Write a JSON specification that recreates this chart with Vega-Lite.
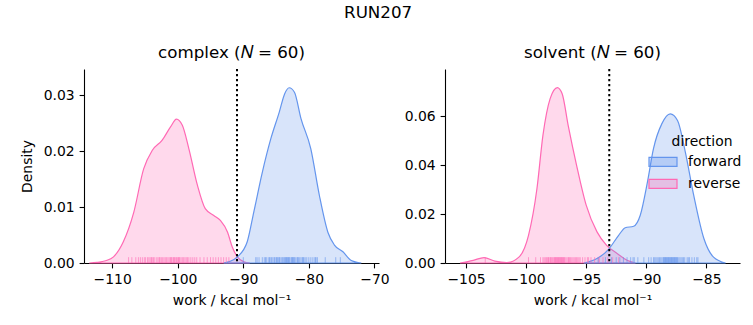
{
  "$schema": "https://vega.github.io/schema/vega-lite/v6.json",
  "padding": {"left": 20, "top": 4, "right": 5, "bottom": 5},
  "bounds": "flush",
  "spacing": 66,
  "title": {"text": "RUN207", "fontSize": 16.7, "fontWeight": "normal", "anchor": "middle", "dx": -3, "offset": 24},
  "datasets": {
    "curves": [
      {"panel": "complex", "direction": "reverse", "x": -113.5, "y": 0},
      {"panel": "complex", "direction": "reverse", "x": -112.3, "y": 0.0001},
      {"panel": "complex", "direction": "reverse", "x": -111.0, "y": 0.0004},
      {"panel": "complex", "direction": "reverse", "x": -109.8, "y": 0.0011},
      {"panel": "complex", "direction": "reverse", "x": -108.3, "y": 0.0038},
      {"panel": "complex", "direction": "reverse", "x": -106.7, "y": 0.0091},
      {"panel": "complex", "direction": "reverse", "x": -105.2, "y": 0.0168},
      {"panel": "complex", "direction": "reverse", "x": -103.9, "y": 0.0201},
      {"panel": "complex", "direction": "reverse", "x": -102.4, "y": 0.0219},
      {"panel": "complex", "direction": "reverse", "x": -101.1, "y": 0.0243},
      {"panel": "complex", "direction": "reverse", "x": -100.2, "y": 0.0257},
      {"panel": "complex", "direction": "reverse", "x": -99.3, "y": 0.0246},
      {"panel": "complex", "direction": "reverse", "x": -98.3, "y": 0.0204},
      {"panel": "complex", "direction": "reverse", "x": -97.0, "y": 0.0139},
      {"panel": "complex", "direction": "reverse", "x": -95.8, "y": 0.0097},
      {"panel": "complex", "direction": "reverse", "x": -94.5, "y": 0.0085},
      {"panel": "complex", "direction": "reverse", "x": -93.5, "y": 0.0076},
      {"panel": "complex", "direction": "reverse", "x": -92.4, "y": 0.0055},
      {"panel": "complex", "direction": "reverse", "x": -91.7, "y": 0.0029},
      {"panel": "complex", "direction": "reverse", "x": -90.9, "y": 0.0011},
      {"panel": "complex", "direction": "reverse", "x": -89.9, "y": 0.0002},
      {"panel": "complex", "direction": "reverse", "x": -89.0, "y": 0},
      {"panel": "complex", "direction": "forward", "x": -93.0, "y": 0},
      {"panel": "complex", "direction": "forward", "x": -92.0, "y": 0.0003},
      {"panel": "complex", "direction": "forward", "x": -90.9, "y": 0.0011},
      {"panel": "complex", "direction": "forward", "x": -89.4, "y": 0.0038},
      {"panel": "complex", "direction": "forward", "x": -88.4, "y": 0.0091},
      {"panel": "complex", "direction": "forward", "x": -87.1, "y": 0.0162},
      {"panel": "complex", "direction": "forward", "x": -85.8, "y": 0.0222},
      {"panel": "complex", "direction": "forward", "x": -84.5, "y": 0.027},
      {"panel": "complex", "direction": "forward", "x": -83.7, "y": 0.0302},
      {"panel": "complex", "direction": "forward", "x": -83.0, "y": 0.0313},
      {"panel": "complex", "direction": "forward", "x": -82.2, "y": 0.0305},
      {"panel": "complex", "direction": "forward", "x": -81.2, "y": 0.0258},
      {"panel": "complex", "direction": "forward", "x": -79.7, "y": 0.0204},
      {"panel": "complex", "direction": "forward", "x": -78.4, "y": 0.0121},
      {"panel": "complex", "direction": "forward", "x": -77.1, "y": 0.0055},
      {"panel": "complex", "direction": "forward", "x": -76.1, "y": 0.0032},
      {"panel": "complex", "direction": "forward", "x": -74.8, "y": 0.002},
      {"panel": "complex", "direction": "forward", "x": -73.6, "y": 0.0005},
      {"panel": "complex", "direction": "forward", "x": -72.0, "y": 0},
      {"panel": "solvent", "direction": "reverse", "x": -105.5, "y": 0},
      {"panel": "solvent", "direction": "reverse", "x": -104.4, "y": 0.0011},
      {"panel": "solvent", "direction": "reverse", "x": -103.5, "y": 0.0022},
      {"panel": "solvent", "direction": "reverse", "x": -102.6, "y": 0.0008},
      {"panel": "solvent", "direction": "reverse", "x": -101.6, "y": 0.0002},
      {"panel": "solvent", "direction": "reverse", "x": -100.6, "y": 0.0024},
      {"panel": "solvent", "direction": "reverse", "x": -99.8, "y": 0.0113},
      {"panel": "solvent", "direction": "reverse", "x": -99.1, "y": 0.0303},
      {"panel": "solvent", "direction": "reverse", "x": -98.6, "y": 0.0521},
      {"panel": "solvent", "direction": "reverse", "x": -98.0, "y": 0.0671},
      {"panel": "solvent", "direction": "reverse", "x": -97.4, "y": 0.0716},
      {"panel": "solvent", "direction": "reverse", "x": -97.0, "y": 0.0691},
      {"panel": "solvent", "direction": "reverse", "x": -96.5, "y": 0.0562},
      {"panel": "solvent", "direction": "reverse", "x": -95.8, "y": 0.0399},
      {"panel": "solvent", "direction": "reverse", "x": -95.0, "y": 0.0236},
      {"panel": "solvent", "direction": "reverse", "x": -94.1, "y": 0.0127},
      {"panel": "solvent", "direction": "reverse", "x": -93.3, "y": 0.0072},
      {"panel": "solvent", "direction": "reverse", "x": -92.4, "y": 0.0038},
      {"panel": "solvent", "direction": "reverse", "x": -91.6, "y": 0.0011},
      {"panel": "solvent", "direction": "reverse", "x": -90.9, "y": 0},
      {"panel": "solvent", "direction": "forward", "x": -95.2, "y": 0},
      {"panel": "solvent", "direction": "forward", "x": -94.1, "y": 0.0018},
      {"panel": "solvent", "direction": "forward", "x": -93.1, "y": 0.0058},
      {"panel": "solvent", "direction": "forward", "x": -92.3, "y": 0.0113},
      {"panel": "solvent", "direction": "forward", "x": -91.75, "y": 0.0144},
      {"panel": "solvent", "direction": "forward", "x": -91.05, "y": 0.015},
      {"panel": "solvent", "direction": "forward", "x": -90.5, "y": 0.0195},
      {"panel": "solvent", "direction": "forward", "x": -89.9, "y": 0.0331},
      {"panel": "solvent", "direction": "forward", "x": -89.4, "y": 0.0467},
      {"panel": "solvent", "direction": "forward", "x": -88.7, "y": 0.0569},
      {"panel": "solvent", "direction": "forward", "x": -88.0, "y": 0.0609},
      {"panel": "solvent", "direction": "forward", "x": -87.4, "y": 0.0582},
      {"panel": "solvent", "direction": "forward", "x": -86.75, "y": 0.0453},
      {"panel": "solvent", "direction": "forward", "x": -86.05, "y": 0.0276},
      {"panel": "solvent", "direction": "forward", "x": -85.2, "y": 0.0099},
      {"panel": "solvent", "direction": "forward", "x": -84.4, "y": 0.0024},
      {"panel": "solvent", "direction": "forward", "x": -83.4, "y": 0}
    ],
    "rug_complex": [
      {"direction": "reverse", "x": -107.5}, {"direction": "reverse", "x": -107.0}, {"direction": "reverse", "x": -106.4}, {"direction": "reverse", "x": -106.0}, {"direction": "reverse", "x": -105.7}, {"direction": "reverse", "x": -105.4}, {"direction": "reverse", "x": -105.1}, {"direction": "reverse", "x": -104.9}, {"direction": "reverse", "x": -104.6}, {"direction": "reverse", "x": -104.4}, {"direction": "reverse", "x": -104.2}, {"direction": "reverse", "x": -103.9}, {"direction": "reverse", "x": -103.7}, {"direction": "reverse", "x": -103.5}, {"direction": "reverse", "x": -103.2}, {"direction": "reverse", "x": -103.0}, {"direction": "reverse", "x": -102.8}, {"direction": "reverse", "x": -102.5}, {"direction": "reverse", "x": -102.3}, {"direction": "reverse", "x": -102.1}, {"direction": "reverse", "x": -101.9}, {"direction": "reverse", "x": -101.7}, {"direction": "reverse", "x": -101.5}, {"direction": "reverse", "x": -101.3}, {"direction": "reverse", "x": -101.1}, {"direction": "reverse", "x": -100.9}, {"direction": "reverse", "x": -100.7}, {"direction": "reverse", "x": -100.5}, {"direction": "reverse", "x": -100.3}, {"direction": "reverse", "x": -100.2}, {"direction": "reverse", "x": -100.0}, {"direction": "reverse", "x": -99.8}, {"direction": "reverse", "x": -99.7}, {"direction": "reverse", "x": -99.5}, {"direction": "reverse", "x": -99.3}, {"direction": "reverse", "x": -99.1}, {"direction": "reverse", "x": -98.9}, {"direction": "reverse", "x": -98.7}, {"direction": "reverse", "x": -98.5}, {"direction": "reverse", "x": -98.3}, {"direction": "reverse", "x": -98.0}, {"direction": "reverse", "x": -97.7}, {"direction": "reverse", "x": -97.4}, {"direction": "reverse", "x": -97.1}, {"direction": "reverse", "x": -96.6}, {"direction": "reverse", "x": -96.0}, {"direction": "reverse", "x": -95.5}, {"direction": "reverse", "x": -95.0}, {"direction": "reverse", "x": -94.6}, {"direction": "reverse", "x": -94.2}, {"direction": "reverse", "x": -93.8}, {"direction": "reverse", "x": -93.4}, {"direction": "reverse", "x": -93.0}, {"direction": "reverse", "x": -92.6}, {"direction": "reverse", "x": -92.2}, {"direction": "reverse", "x": -101.0}, {"direction": "reverse", "x": -100.6}, {"direction": "reverse", "x": -99.9}, {"direction": "reverse", "x": -102.7}, {"direction": "reverse", "x": -104.0},
      {"direction": "forward", "x": -90.0}, {"direction": "forward", "x": -88.1}, {"direction": "forward", "x": -87.6}, {"direction": "forward", "x": -87.1}, {"direction": "forward", "x": -86.8}, {"direction": "forward", "x": -86.5}, {"direction": "forward", "x": -86.2}, {"direction": "forward", "x": -86.0}, {"direction": "forward", "x": -85.7}, {"direction": "forward", "x": -85.5}, {"direction": "forward", "x": -85.2}, {"direction": "forward", "x": -85.0}, {"direction": "forward", "x": -84.8}, {"direction": "forward", "x": -84.6}, {"direction": "forward", "x": -84.4}, {"direction": "forward", "x": -84.2}, {"direction": "forward", "x": -84.0}, {"direction": "forward", "x": -83.9}, {"direction": "forward", "x": -83.7}, {"direction": "forward", "x": -83.5}, {"direction": "forward", "x": -83.4}, {"direction": "forward", "x": -83.2}, {"direction": "forward", "x": -83.0}, {"direction": "forward", "x": -82.9}, {"direction": "forward", "x": -82.7}, {"direction": "forward", "x": -82.5}, {"direction": "forward", "x": -82.4}, {"direction": "forward", "x": -82.2}, {"direction": "forward", "x": -82.0}, {"direction": "forward", "x": -81.8}, {"direction": "forward", "x": -81.6}, {"direction": "forward", "x": -81.4}, {"direction": "forward", "x": -81.2}, {"direction": "forward", "x": -81.0}, {"direction": "forward", "x": -80.8}, {"direction": "forward", "x": -80.6}, {"direction": "forward", "x": -80.4}, {"direction": "forward", "x": -80.1}, {"direction": "forward", "x": -79.8}, {"direction": "forward", "x": -79.5}, {"direction": "forward", "x": -79.2}, {"direction": "forward", "x": -78.9}, {"direction": "forward", "x": -78.7}, {"direction": "forward", "x": -75.9}, {"direction": "forward", "x": -75.2}, {"direction": "forward", "x": -84.5}, {"direction": "forward", "x": -83.6}, {"direction": "forward", "x": -83.1}, {"direction": "forward", "x": -82.6}, {"direction": "forward", "x": -85.9}, {"direction": "forward", "x": -86.6}, {"direction": "forward", "x": -81.7}, {"direction": "forward", "x": -80.9}, {"direction": "forward", "x": -84.9}, {"direction": "forward", "x": -83.3}, {"direction": "forward", "x": -82.3}, {"direction": "forward", "x": -87.9}, {"direction": "forward", "x": -79.0}, {"direction": "forward", "x": -77.5}, {"direction": "forward", "x": -85.3}
    ],
    "rug_solvent": [
      {"direction": "reverse", "x": -103.4}, {"direction": "reverse", "x": -99.8}, {"direction": "reverse", "x": -99.2}, {"direction": "reverse", "x": -98.8}, {"direction": "reverse", "x": -98.6}, {"direction": "reverse", "x": -98.4}, {"direction": "reverse", "x": -98.3}, {"direction": "reverse", "x": -98.2}, {"direction": "reverse", "x": -98.1}, {"direction": "reverse", "x": -98.0}, {"direction": "reverse", "x": -97.9}, {"direction": "reverse", "x": -97.8}, {"direction": "reverse", "x": -97.7}, {"direction": "reverse", "x": -97.6}, {"direction": "reverse", "x": -97.5}, {"direction": "reverse", "x": -97.4}, {"direction": "reverse", "x": -97.35}, {"direction": "reverse", "x": -97.3}, {"direction": "reverse", "x": -97.2}, {"direction": "reverse", "x": -97.1}, {"direction": "reverse", "x": -97.0}, {"direction": "reverse", "x": -96.9}, {"direction": "reverse", "x": -96.8}, {"direction": "reverse", "x": -96.7}, {"direction": "reverse", "x": -96.6}, {"direction": "reverse", "x": -96.5}, {"direction": "reverse", "x": -96.4}, {"direction": "reverse", "x": -96.3}, {"direction": "reverse", "x": -96.2}, {"direction": "reverse", "x": -96.0}, {"direction": "reverse", "x": -95.9}, {"direction": "reverse", "x": -95.7}, {"direction": "reverse", "x": -95.5}, {"direction": "reverse", "x": -95.3}, {"direction": "reverse", "x": -95.1}, {"direction": "reverse", "x": -94.9}, {"direction": "reverse", "x": -94.6}, {"direction": "reverse", "x": -94.3}, {"direction": "reverse", "x": -94.0}, {"direction": "reverse", "x": -93.6}, {"direction": "reverse", "x": -93.2}, {"direction": "reverse", "x": -92.8}, {"direction": "reverse", "x": -92.3}, {"direction": "reverse", "x": -97.45}, {"direction": "reverse", "x": -97.65}, {"direction": "reverse", "x": -97.15}, {"direction": "reverse", "x": -96.95}, {"direction": "reverse", "x": -97.55}, {"direction": "reverse", "x": -97.25}, {"direction": "reverse", "x": -98.5}, {"direction": "reverse", "x": -96.1}, {"direction": "reverse", "x": -95.8}, {"direction": "reverse", "x": -97.05}, {"direction": "reverse", "x": -96.85}, {"direction": "reverse", "x": -98.15}, {"direction": "reverse", "x": -97.95}, {"direction": "reverse", "x": -96.45}, {"direction": "reverse", "x": -95.6}, {"direction": "reverse", "x": -94.8}, {"direction": "reverse", "x": -93.9},
      {"direction": "forward", "x": -94.0}, {"direction": "forward", "x": -93.4}, {"direction": "forward", "x": -92.9}, {"direction": "forward", "x": -92.5}, {"direction": "forward", "x": -92.2}, {"direction": "forward", "x": -91.9}, {"direction": "forward", "x": -91.6}, {"direction": "forward", "x": -91.3}, {"direction": "forward", "x": -91.0}, {"direction": "forward", "x": -90.7}, {"direction": "forward", "x": -89.8}, {"direction": "forward", "x": -89.6}, {"direction": "forward", "x": -89.4}, {"direction": "forward", "x": -89.2}, {"direction": "forward", "x": -89.0}, {"direction": "forward", "x": -88.9}, {"direction": "forward", "x": -88.8}, {"direction": "forward", "x": -88.7}, {"direction": "forward", "x": -88.6}, {"direction": "forward", "x": -88.5}, {"direction": "forward", "x": -88.4}, {"direction": "forward", "x": -88.3}, {"direction": "forward", "x": -88.2}, {"direction": "forward", "x": -88.1}, {"direction": "forward", "x": -88.0}, {"direction": "forward", "x": -87.9}, {"direction": "forward", "x": -87.8}, {"direction": "forward", "x": -87.7}, {"direction": "forward", "x": -87.6}, {"direction": "forward", "x": -87.5}, {"direction": "forward", "x": -87.4}, {"direction": "forward", "x": -87.3}, {"direction": "forward", "x": -87.2}, {"direction": "forward", "x": -87.1}, {"direction": "forward", "x": -87.0}, {"direction": "forward", "x": -86.8}, {"direction": "forward", "x": -86.6}, {"direction": "forward", "x": -86.4}, {"direction": "forward", "x": -86.2}, {"direction": "forward", "x": -86.0}, {"direction": "forward", "x": -85.8}, {"direction": "forward", "x": -85.7}, {"direction": "forward", "x": -88.55}, {"direction": "forward", "x": -88.35}, {"direction": "forward", "x": -88.15}, {"direction": "forward", "x": -87.95}, {"direction": "forward", "x": -87.75}, {"direction": "forward", "x": -87.55}, {"direction": "forward", "x": -89.1}, {"direction": "forward", "x": -89.3}, {"direction": "forward", "x": -88.05}, {"direction": "forward", "x": -87.85}, {"direction": "forward", "x": -87.65}, {"direction": "forward", "x": -87.45}, {"direction": "forward", "x": -86.9}, {"direction": "forward", "x": -86.5}, {"direction": "forward", "x": -90.2}, {"direction": "forward", "x": -91.1}, {"direction": "forward", "x": -88.45}, {"direction": "forward", "x": -88.25}
    ]
  },
  "hconcat": [
    {
      "width": 295,
      "height": 194,
      "title": {"text": "complex (𝑁 = 60)"},
      "layer": [
        {
          "data": {"name": "curves"},
          "transform": [{"filter": "datum.panel === 'complex'"}],
          "mark": {"type": "area", "fillOpacity": 0.25, "strokeWidth": 1.2, "interpolate": "monotone"},
          "encoding": {
            "x": {"field": "x", "type": "quantitative", "scale": {"domain": [-114.3, -69.3], "nice": false, "zero": false}, "axis": {"values": [-110, -100, -90, -80, -70], "title": "work / kcal mol⁻¹"}},
            "y": {"field": "y", "type": "quantitative", "stack": null, "scale": {"domain": [0, 0.03465], "nice": false}, "axis": {"values": [0, 0.01, 0.02, 0.03], "format": ".2f", "title": "Density"}},
            "fill": {"field": "direction", "type": "nominal", "scale": {"domain": ["forward", "reverse"], "range": ["#6495ED", "#FF69B4"]}, "legend": null},
            "stroke": {"field": "direction", "type": "nominal", "scale": {"domain": ["forward", "reverse"], "range": ["#6495ED", "#FF69B4"]}, "legend": null}
          }
        },
        {
          "data": {"name": "rug_complex"},
          "mark": {"type": "rule", "strokeWidth": 1, "opacity": 0.6},
          "encoding": {
            "x": {"field": "x", "type": "quantitative"},
            "y": {"datum": 0, "type": "quantitative"},
            "y2": {"datum": 0.00104},
            "stroke": {"field": "direction", "type": "nominal", "legend": null}
          }
        },
        {
          "data": {"values": [{"threshold": -90.96}]},
          "mark": {"type": "rule", "strokeDash": [2.2, 2.8], "strokeWidth": 2, "color": "black"},
          "encoding": {"x": {"field": "threshold", "type": "quantitative"}}
        }
      ]
    },
    {
      "width": 295,
      "height": 194,
      "title": {"text": "solvent (𝑁 = 60)"},
      "layer": [
        {
          "data": {"name": "curves"},
          "transform": [{"filter": "datum.panel === 'solvent'"}],
          "mark": {"type": "area", "fillOpacity": 0.25, "strokeWidth": 1.2, "interpolate": "monotone"},
          "encoding": {
            "x": {"field": "x", "type": "quantitative", "scale": {"domain": [-106.75, -82.2], "nice": false, "zero": false}, "axis": {"values": [-105, -100, -95, -90, -85], "title": "work / kcal mol⁻¹"}},
            "y": {"field": "y", "type": "quantitative", "stack": null, "scale": {"domain": [0, 0.0792], "nice": false}, "axis": {"values": [0, 0.02, 0.04, 0.06], "format": ".2f", "title": null}},
            "fill": {"field": "direction", "type": "nominal", "scale": {"domain": ["forward", "reverse"], "range": ["#6495ED", "#FF69B4"]}, "legend": {"title": "direction", "orient": "none", "legendX": 203, "legendY": 66, "encode": {"symbols": {"update": {"fillOpacity": {"value": 0.3}, "strokeWidth": {"value": 1.2}}}, "title": {"update": {"dx": {"value": 7}}}}}},
            "stroke": {"field": "direction", "type": "nominal", "scale": {"domain": ["forward", "reverse"], "range": ["#6495ED", "#FF69B4"]}, "legend": {"title": "direction", "orient": "none", "legendX": 203, "legendY": 66, "encode": {"symbols": {"update": {"fillOpacity": {"value": 0.3}, "strokeWidth": {"value": 1.2}}}, "title": {"update": {"dx": {"value": 7}}}}}}
          }
        },
        {
          "data": {"name": "rug_solvent"},
          "mark": {"type": "rule", "strokeWidth": 1, "opacity": 0.6},
          "encoding": {
            "x": {"field": "x", "type": "quantitative"},
            "y": {"datum": 0, "type": "quantitative"},
            "y2": {"datum": 0.00237},
            "stroke": {"field": "direction", "type": "nominal", "legend": null}
          }
        },
        {
          "data": {"values": [{"threshold": -93.08}]},
          "mark": {"type": "rule", "strokeDash": [2.2, 2.8], "strokeWidth": 2, "color": "black"},
          "encoding": {"x": {"field": "threshold", "type": "quantitative"}}
        }
      ]
    }
  ],
  "resolve": {"scale": {"x": "independent", "y": "independent"}, "legend": {"fill": "independent", "stroke": "independent"}},
  "config": {
    "font": "DejaVu Sans",
    "view": {"stroke": null},
    "axis": {
      "grid": false, "domainColor": "black", "tickColor": "black", "labelColor": "black", "titleColor": "black",
      "labelFontSize": 13.9, "titleFontSize": 13.9, "titleFontWeight": "normal", "tickSize": 4.9, "labelPadding": 4.9,
      "domainWidth": 1.1, "tickWidth": 1.1, "labelFlush": false, "labelOverlap": false, "zindex": 1
    },
    "axisY": {"titlePadding": 9},
    "axisX": {"titlePadding": 7},
    "title": {"fontSize": 16.7, "fontWeight": "normal", "color": "black", "offset": 6},
    "legend": {
      "titleFontSize": 13.9, "titleFontWeight": "normal", "labelFontSize": 13.9, "titleColor": "black", "labelColor": "black",
      "symbolType": "M-1,-0.32L1,-0.32L1,0.32L-1,0.32Z", "symbolSize": 784, "symbolStrokeWidth": 1.2,
      "labelOffset": 10, "rowPadding": -1, "titleAnchor": "middle", "titlePadding": -2
    }
  }
}
